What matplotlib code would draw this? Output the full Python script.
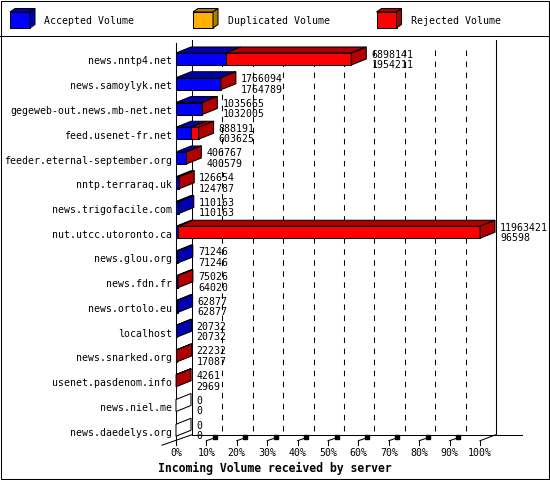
import matplotlib
matplotlib.use("Agg")
import matplotlib.pyplot as plt
from matplotlib.patches import Polygon, Rectangle
from matplotlib.lines import Line2D

# ---------------- data ----------------
servers = [
    "news.nntp4.net", "news.samoylyk.net", "gegeweb-out.news.mb-net.net",
    "feed.usenet-fr.net", "feeder.eternal-september.org", "nntp.terraraq.uk",
    "news.trigofacile.com", "nut.utcc.utoronto.ca", "news.glou.org",
    "news.fdn.fr", "news.ortolo.eu", "localhost", "news.snarked.org",
    "usenet.pasdenom.info", "news.niel.me", "news.daedelys.org",
]
total_volume = [6898141, 1766094, 1035665, 888191, 406767, 126654, 110163,
                11963421, 71246, 75026, 62877, 20732, 22232, 4261, 0, 0]
accepted_volume = [1954211, 1764789, 1032005, 603625, 400579, 124787, 110163,
                   96598, 71246, 64020, 62877, 20732, 17087, 2969, 0, 0]
duplicated_volume = [0] * len(servers)
rejected_volume = [t - a - d for t, a, d in
                   zip(total_volume, accepted_volume, duplicated_volume)]
pct_ticks = [0, 10, 20, 30, 40, 50, 60, 70, 80, 90, 100]
tick_labels = [f"{p}%" for p in pct_ticks]
series_names = ["Accepted Volume", "Duplicated Volume", "Rejected Volume"]
x_title = "Incoming Volume received by server"

# ---------------- style ----------------
FRONT = ["#0000FF", "#FFB000", "#FF0000"]
DARK = ["#0000B0", "#B07C00", "#B00000"]
plt.rcParams["font.family"] = ["DejaVu Sans Mono"]
FS = 7.15
LW = 0.75

W, H, DPI = 550, 480, 100
fig = plt.figure(figsize=(W / DPI, H / DPI), dpi=DPI)

# overlay axes in pixel units for frame + legend
bg = fig.add_axes([0, 0, 1, 1])
bg.set_xlim(0, W)
bg.set_ylim(H, 0)
bg.axis("off")
bg.add_patch(Rectangle((0.5, 0.5), 548, 478, fill=False, ec="black", lw=LW))
bg.add_line(Line2D([0, W], [35.5, 35.5], color="black", lw=LW))

leg_x = [10, 193, 376.5]
for j, name in enumerate(series_names):
    x0 = leg_x[j]
    bg.add_patch(Rectangle((x0, 12), 20, 16, fc=FRONT[j], ec="black", lw=LW))
    bg.add_patch(Polygon([(x0, 12), (x0 + 20, 12), (x0 + 25, 8.5), (x0 + 5, 8.5)],
                         closed=True, fc=DARK[j], ec="black", lw=LW))
    bg.add_patch(Polygon([(x0 + 20, 12), (x0 + 25, 8.5), (x0 + 25, 24.5), (x0 + 20, 28)],
                         closed=True, fc=DARK[j], ec="black", lw=LW))
    bg.text(x0 + 34.5, 24.5, name, fontsize=FS, va="baseline", ha="left")

# ---------------- main chart axes ----------------
PX_L, PX_R, PX_T, PX_B = 176, 480, 46, 440.7
PITCH, C0 = 24.75, 59.0
ax = fig.add_axes([PX_L / W, (H - PX_B) / H, (PX_R - PX_L) / W, (PX_B - PX_T) / H])
xmax = max(total_volume)
ax.set_xlim(0, xmax)
y_top = (PX_T - C0) / PITCH
y_bot = (PX_B - C0) / PITCH
ax.set_ylim(y_bot, y_top)
ax.axis("off")

px_x = xmax / (PX_R - PX_L)   # data units per pixel (x)
px_y = 1.0 / PITCH            # data units per pixel (y, downward)

DXF, DYF = 16 * px_x, -6 * px_y   # floor / wall depth
DXB, DYB = 15 * px_x, -6 * px_y   # bar depth
HB = 6 * px_y                     # half bar height

back_top = y_top + DYF
back_bot = y_bot + DYF

def L(xs, ys, **kw):
    kw.setdefault("color", "black")
    kw.setdefault("lw", LW)
    ln = Line2D(xs, ys, clip_on=False, **kw)
    ax.add_line(ln)

# dashed gridlines on back wall
for p in pct_ticks[1:-1]:
    xg = p / 100 * xmax + DXF
    L([xg, xg], [back_top + 10 * px_y, back_bot], ls=(0, (5.3, 5.3)), zorder=1)
# back wall frame
L([DXF, DXF], [back_top, back_bot], zorder=1)
L([xmax + DXF, xmax + DXF], [back_top, back_bot], zorder=1)
L([DXF, xmax + DXF + 26 * px_x], [back_bot, back_bot], zorder=1)
# front left axis and floor edges
L([0, 0], [y_top - 3 * px_y, y_bot], zorder=2)
L([-14 * px_x, DXF], [y_bot + 4.5 * px_y, back_bot], zorder=2)
L([xmax, xmax + DXF], [y_bot, back_bot], zorder=2)

# ticks on front edge
for p, lab in zip(pct_ticks, tick_labels):
    xt = p / 100 * xmax
    L([xt, xt], [y_bot, y_bot + 4.3 * px_y], zorder=2)
    if 0 < p < 100:
        L([xt, xt + 7 * px_x], [y_bot, y_bot - 2.4 * px_y], zorder=2)
        ax.plot([xt + 8.5 * px_x], [y_bot - 3.2 * px_y], marker="s", ms=2.6,
                color="black", clip_on=False, zorder=2)
    ax.annotate(lab, xy=(xt, y_bot), xytext=(0, -15.3), textcoords="offset pixels",
                ha="center", va="baseline", fontsize=FS, annotation_clip=False)

# bars
series = [accepted_volume, duplicated_volume, rejected_volume]
for i in range(len(servers)):
    left = 0
    last = None
    for j, vals in enumerate(series):
        v = vals[i]
        if v <= 0:
            continue
        ax.barh(i, v, left=left, height=2 * HB, color=FRONT[j], edgecolor="black",
                linewidth=LW, zorder=3, clip_on=False)
        r = left + v
        ax.add_patch(Polygon([(left, i - HB), (r, i - HB), (r + DXB, i - HB + DYB),
                              (left + DXB, i - HB + DYB)], closed=True,
                             fc=DARK[j], ec="black", lw=LW, zorder=3, clip_on=False))
        left = r
        last = j
    e = total_volume[i]
    side_fc = DARK[last] if last is not None else "white"
    ax.add_patch(Polygon([(e, i - HB), (e + DXB, i - HB + DYB), (e + DXB, i + HB + DYB),
                          (e, i + HB)], closed=True, fc=side_fc, ec="black", lw=LW,
                         zorder=3, clip_on=False))
    # value labels
    ax.annotate(str(total_volume[i]), xy=(e, i), xytext=(20, 1.5),
                textcoords="offset pixels", ha="left", va="baseline",
                fontsize=FS, zorder=4, annotation_clip=False)
    ax.annotate(str(accepted_volume[i]), xy=(e, i), xytext=(20, -8.8),
                textcoords="offset pixels", ha="left", va="baseline",
                fontsize=FS, zorder=4, annotation_clip=False)
    # category labels
    ax.annotate(servers[i], xy=(0, i), xytext=(-4, -5.5), textcoords="offset pixels",
                ha="right", va="baseline", fontsize=FS, annotation_clip=False)

fig.text(0.5, 1 - 472 / H, x_title, ha="center", va="baseline", fontsize=8.3,
         fontweight="bold")

fig.savefig("out.png", dpi=DPI)
